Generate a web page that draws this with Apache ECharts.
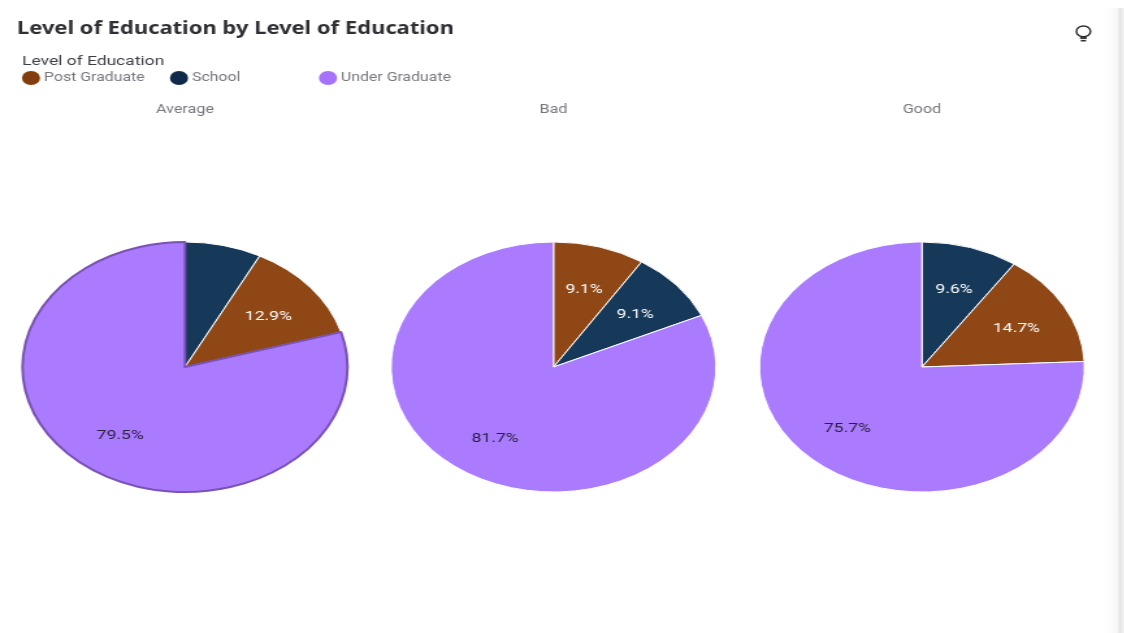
<!DOCTYPE html>
<html>
<head>
<meta charset="utf-8">
<script src="https://cdn.jsdelivr.net/npm/echarts@6/dist/echarts.min.js"></script>
<style>
html,body{margin:0;padding:0;width:1124px;height:633px;overflow:hidden;background:#fff}
#chart{position:absolute;left:0;top:0;width:865px;height:633px;transform:scaleX(1.3);transform-origin:0 0;filter:blur(0.35px)}
#edge{position:absolute;left:1090px;top:8px;width:34px;height:625px;background:linear-gradient(to right,#ffffff 0,#ffffff 40%,#f7f7f7 80%,#e4e4e4 88%,#f2f2f2 100%)}
</style>
</head>
<body>
<div id="edge"></div>
<div id="chart"></div>
<script>
const titleText = 'Level of Education by Level of Education';
const legendTitle = 'Level of Education';
const panels = ['Average', 'Bad', 'Good'];
const legendNames = ['Post Graduate', 'School', 'Under Graduate'];
const colors = {'Post Graduate': '#8f4716', 'School': '#16395a', 'Under Graduate': '#ab7bff'};
const legendColors = {'Post Graduate': '#833c0b', 'School': '#0f2a4a', 'Under Graduate': '#a672fa'};
const averageNames = ['School', 'Post Graduate', 'Under Graduate'];
const averageValues = [7.6, 12.9, 79.5];
const badNames = ['Post Graduate', 'School', 'Under Graduate'];
const badValues = [9.1, 9.1, 81.7];
const goodNames = ['School', 'Post Graduate', 'Under Graduate'];
const goodValues = [9.6, 14.7, 75.7];
const hiddenLabels = {Average: ['School'], Bad: [], Good: []};

const namesBy = [averageNames, badNames, goodNames];
const valuesBy = [averageValues, badValues, goodValues];
const font = '"Noto Sans", sans-serif';
const font2 = 'Roboto, sans-serif';
const centersX = [142.3, 425.8, 709.2];
const legendLefts = [11.85, 125.7, 240.3];
const R = 125, CY = 367;

const series = [];
panels.forEach((p, i) => {
  const fills = namesBy[i].map((n, k) => ({name: n, value: valuesBy[i][k]}));
  series.push({
    type: 'pie', center: [centersX[i], CY], radius: [0, R], startAngle: 90, clockwise: true,
    silent: true, animation: false, label: {show: false}, labelLine: {show: false},
    data: fills.map(d => ({
      name: d.name, value: d.value,
      itemStyle: {
        color: colors[d.name],
        borderColor: (p === 'Average' && d.name === 'Under Graduate') ? '#7a52b3' : '#ffffff',
        borderWidth: (p === 'Average' && d.name === 'Under Graduate') ? 2 : 1
      }
    }))
  });
  // transparent ring that only places the labels at about two thirds of the radius
  series.push({
    type: 'pie', center: [centersX[i], CY], radius: [R * 0.28, R], startAngle: 90, clockwise: true,
    silent: true, animation: false, legendHoverLink: false, labelLine: {show: false},
    itemStyle: {color: 'transparent'},
    data: fills.map(d => ({
      name: d.name, value: d.value,
      label: {
        show: !hiddenLabels[p].includes(d.name),
        position: 'inside', formatter: d.value.toFixed(1) + '%',
        offset: [0, 2],
        fontFamily: font2, fontSize: 13.5,
        color: d.name === 'Under Graduate' ? '#2a1f3d' : '#ffffff'
      }
    }))
  });
});

const titles = [
  {text: titleText, left: 8, top: 16, textStyle: {fontFamily: font, fontSize: 16.9, fontWeight: 700, color: '#2f2f33'}},
  {text: legendTitle, left: 12, top: 50, textStyle: {fontFamily: font2, fontSize: 13.4, fontWeight: 400, color: '#3d3d45'}}
];
panels.forEach((p, i) => titles.push({
  text: p, left: centersX[i] - 5, top: 99, textAlign: 'center',
  textStyle: {fontFamily: font2, fontSize: 12.4, fontWeight: 400, color: '#77777d'}
}));

const legends = legendNames.map((n, i) => ({
  left: legendLefts[i], top: 66, icon: 'circle', itemWidth: 14, itemHeight: 14,
  selectedMode: false,
  data: [{name: n, itemStyle: {color: legendColors[n], borderWidth: 0}}],
  textStyle: {fontFamily: font2, fontSize: 12.2, color: '#77777d', padding: [0, 0, 0, -2]}
}));

const chart = echarts.init(document.getElementById('chart'), null, {renderer: 'canvas'});
chart.setOption({
  backgroundColor: 'transparent',
  animation: false,
  title: titles,
  legend: legends,
  graphic: [{
    type: 'group', left: 825.5, top: 23.5,
    children: [
      {type: 'circle', shape: {cx: 6, cy: 6.5, r: 5.4}, style: {fill: 'none', stroke: '#2b2b2b', lineWidth: 1.4}},
      {type: 'rect', shape: {x: 3.4, y: 12.2, width: 5.2, height: 1.8}, style: {fill: '#2b2b2b'}},
      {type: 'rect', shape: {x: 4, y: 15, width: 4, height: 1.6}, style: {fill: '#2b2b2b'}}
    ]
  }],
  series: series
});
</script>
</body>
</html>
